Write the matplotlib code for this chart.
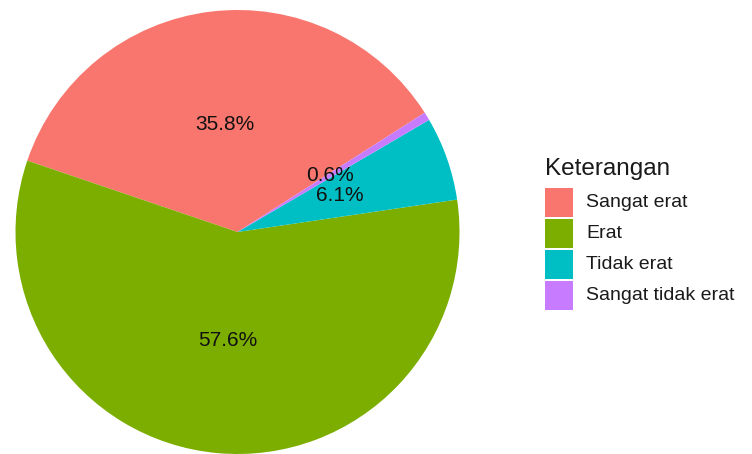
import matplotlib as mpl
mpl.use("Agg")
import matplotlib.pyplot as plt
from matplotlib.patches import Rectangle
import numpy as np

plt.rcParams['font.family'] = ['Liberation Sans', 'DejaVu Sans']

# data
categories = ["Sangat erat", "Erat", "Tidak erat", "Sangat tidak erat"]
percent = [35.8, 57.6, 6.1, 0.6]
colors = ["#F8766D", "#7CAE00", "#00BFC4", "#C77CFF"]

fig = plt.figure(figsize=(7.52, 4.54), dpi=100)
W, H = 752, 454
cx, cy, r = 237.5, 222, 222  # pie centre / radius in pixels (from bottom)
ax = fig.add_axes([(cx - r) / W, (cy - r) / H, 2 * r / W, 2 * r / H])

wedges, texts = ax.pie(
    percent, colors=colors, startangle=32.5, counterclock=True,
    wedgeprops=dict(linewidth=0))
# percentage labels at half radius, using the printed values
for w, p in zip(wedges, percent):
    mid = np.deg2rad((w.theta1 + w.theta2) / 2)
    ax.text(0.49 * np.cos(mid), 0.49 * np.sin(mid), f"{p:.1f}%",
            ha="center", va="center", fontsize=15, color="#111111")
ax.set_xlim(-1, 1)
ax.set_ylim(-1, 1)
ax.set_aspect("equal")
ax.axis("off")


# legend drawn by hand (ggplot style: square keys, title on top)
def px(x, y):
    return x / W, 1 - y / H


fig.text(*px(545, 175), "Keterangan", fontsize=17.5, ha="left",
         va="baseline", color="#1a1a1a")
key_top = 188
for i, (lab, c) in enumerate(zip(categories, colors)):
    top = key_top + i * 31
    x0, y0 = px(545, top + 29)
    fig.patches.append(Rectangle((x0, y0), 28 / W, 29 / H, facecolor=c,
                                 edgecolor="none", transform=fig.transFigure,
                                 figure=fig))
    fig.text(*px(586, top + 14.5), lab, fontsize=14, ha="left",
             va="center", color="#1a1a1a")

fig.savefig("out.png")
print("complete!")
